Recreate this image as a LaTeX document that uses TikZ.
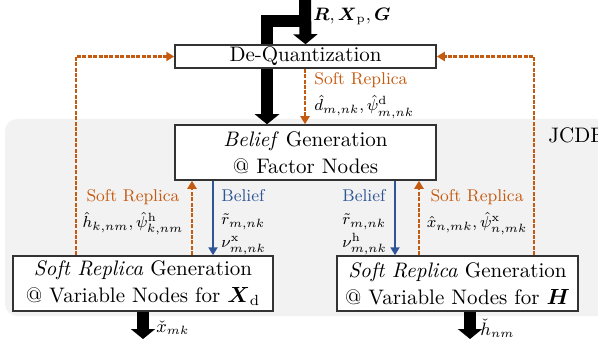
\documentclass[tikz,border=0pt]{standalone}
\usepackage{amsmath}
\usepackage{fontspec}
\usetikzlibrary{arrows.meta,backgrounds}
\definecolor{srorange}{RGB}{197,90,17}
\definecolor{blblue}{RGB}{47,85,151}
\definecolor{jcdegray}{RGB}{242,242,242}

\begin{document}
\begin{tikzpicture}[x=0.5pt,y=-0.5pt,
    blk/.style={draw=black!80, line width=0.75pt, fill=white, inner sep=0pt, minimum width=130.5pt, align=center, font=\fontsize{10.5}{13.5}\selectfont},
    lbl/.style={inner sep=0pt, font=\fontsize{8.5}{13}\selectfont},
    soft/.style={draw=srorange, line width=1.3pt, dash pattern=on 2pt off 0.7pt, -{Triangle[width=4.5pt,length=4pt]}},
    belief/.style={draw=blblue, line width=1pt, -{Triangle[width=4.5pt,length=4pt]}},
    big/.style={line width=6pt, line join=miter, -{Triangle[width=12pt,length=5pt]}}]
    \useasboundingbox (0,0) rectangle (598,347);
    % JCDE region
    \begin{scope}[on background layer]
        \fill[jcdegray, rounded corners=6pt] (5,119) rectangle (620,316);
    \end{scope}
    \node[anchor=west, inner sep=0pt, font=\fontsize{10.5}{13}\selectfont] (jcde) at (548,135) {JCDE};

    % blocks
    \node[blk, minimum height=11.5pt] (dq) at (305.5,56.5) {De-Quantization};
    \node[blk, minimum height=27.5pt] (bg) at (305.5,152.5) {\textit{Belief} Generation\\@ Factor Nodes};
    \node[blk, minimum width=130pt, minimum height=27.5pt] (vl) at (143,283.5) {\textit{Soft Replica} Generation\\@ Variable Nodes for $\boldsymbol{X}_\mathrm{d}$};
    \node[blk, minimum width=120.5pt, minimum height=27.5pt] (vr) at (457.5,283.5) {\textit{Soft Replica} Generation\\@ Variable Nodes for $\boldsymbol{H}$};

    % input
    \coordinate (in) at (305,0);
    \coordinate (split) at (305,21);
    \node[lbl, anchor=west, font=\fontsize{9}{11}\selectfont] (inlbl) at (313,16) {$\boldsymbol{R}, \boldsymbol{X}_\mathrm{p}, \boldsymbol{G}$};
    \draw[big] (in) -- (dq.north);
    \begin{scope}[on background layer]
        \draw[big] (split) -| (267,0 |- bg.north);
    \end{scope}

    % soft replica feedback
    \draw[soft] (76,0 |- vl.north) |- (dq.west);
    \draw[soft] (534,0 |- vr.north) |- (dq.east);
    \draw[soft] (305,0 |- dq.south) -- (305,0 |- bg.north);
    \draw[soft] (192,0 |- vl.north) -- (192,0 |- bg.south);
    \draw[soft] (419,0 |- vr.north) -- (419,0 |- bg.south);
    \node[lbl, anchor=north west, align=left] (sd) at (314,72) {\textcolor{srorange}{Soft Replica}\\$\hat{d}_{m,nk}, \hat{\psi}^{\mathrm{d}}_{m,nk}$};
    \node[lbl, anchor=north, align=center] (sh) at (133,189) {\textcolor{srorange}{Soft Replica}\\$\hat{h}_{k,nm}, \hat{\psi}^{\mathrm{h}}_{k,nm}$};
    \node[lbl, anchor=north, align=center] (sx) at (477,189) {\textcolor{srorange}{Soft Replica}\\$\hat{x}_{n,mk}, \hat{\psi}^{\mathrm{x}}_{n,mk}$};

    % beliefs
    \draw[belief] (213,0 |- bg.south) -- (213,0 |- vl.north);
    \draw[belief] (395,0 |- bg.south) -- (395,0 |- vr.north);
    \node[lbl, anchor=north west, align=left, font=\fontsize{8.5}{11.5}\selectfont] (bx) at (221,189) {\textcolor{blblue}{Belief}\\$\tilde{r}_{m,nk}$\\$\nu^{\mathrm{x}}_{m,nk}$};
    \node[lbl, anchor=north west, align=left, font=\fontsize{8.5}{11.5}\selectfont] (bh) at (342,189) {\textcolor{blblue}{Belief}\\$\tilde{r}_{m,nk}$\\$\nu^{\mathrm{h}}_{m,nk}$};

    % outputs
    \coordinate (xo) at (143,339);
    \coordinate (ho) at (470,339);
    \draw[big] (143,0 |- vl.south) -- (xo);
    \draw[big] (470,0 |- vr.south) -- (ho);
    \node[lbl, anchor=west, font=\fontsize{9}{11}\selectfont] (xl) at (156,328) {$\check{x}_{mk}$};
    \node[lbl, anchor=west, font=\fontsize{9}{11}\selectfont] (hl) at (480,328) {$\check{h}_{nm}$};
\end{tikzpicture}
\end{document}
